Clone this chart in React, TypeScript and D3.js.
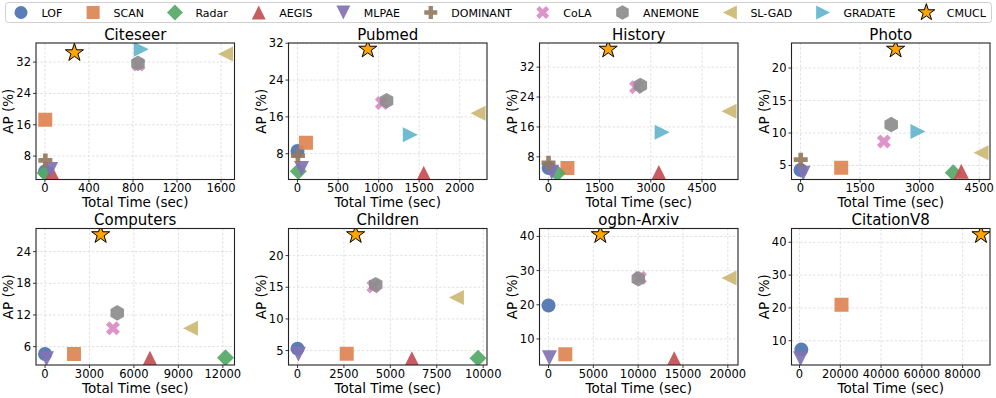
import React from "react";
import * as d3 from "d3";

// ---------- data ----------
const methods = ["LOF", "SCAN", "Radar", "AEGIS", "MLPAE", "DOMINANT", "CoLA", "ANEMONE", "SL-GAD", "GRADATE", "CMUCL"];
const colors = ["#4C72B0", "#DD8452", "#55A868", "#C44E52", "#8172B3", "#937860", "#DA8BC3", "#8C8C8C", "#CCB974", "#64B5CD", "#FFA500"];
const shapes = ["circle", "square", "diamond", "triUp", "triDown", "plus", "cross", "hexagon", "triLeft", "triRight", "star"];

const datasets = ["Citeseer", "Pubmed", "History", "Photo", "Computers", "Children", "ogbn-Arxiv", "CitationV8"];

// time (sec) per method, in the method order above; null = not run
const citeseerTime = [2, 3, 1, 66, 52, 4, 850, 845, 1640, 875, 268];
const citeseerAP = [4.1, 17.3, 3.7, 3.6, 4.6, 6.9, 31.4, 31.7, 34.1, 35.3, 34.4];
const pubmedTime = [0, 104, 10, 1556, 50, 5, 1040, 1098, 2225, 1391, 866];
const pubmedAP = [8.6, 10.4, 4.2, 3.75, 4.8, 7.6, 19.0, 19.5, 16.8, 12.1, 30.7];
const historyTime = [10, 559, 262, 3235, 97, 5, 2568, 2694, 5290, 3332, 1753];
const historyAP = [5.0, 5.0, 3.6, 3.8, 3.9, 6.4, 26.6, 27.1, 20.2, 14.6, 36.8];
const photoTime = [0, 1024, 3847, 4049, 66, 5, 2100, 2284, 4545, 2957, 2395];
const photoAP = [4.3, 4.65, 3.9, 4.1, 3.8, 5.9, 8.7, 11.3, 6.95, 10.25, 22.9];
const computersTime = [0, 1955, 12180, 7080, 100, null, 4585, 4876, 9820, null, 3755];
const computersAP = [4.6, 4.6, 3.9, 3.8, 3.7, null, 9.5, 12.4, 9.5, null, 27.2];
const childrenTime = [0, 2650, 9720, 6160, 50, null, 4085, 4210, 8560, null, 3130];
const childrenAP = [5.3, 4.5, 3.8, 3.7, 4.4, null, 15.1, 15.4, 13.4, null, 23.3];
const arxivTime = [0, 1870, null, 14020, 100, null, 10200, 10020, 20130, null, 5780];
const arxivAP = [19.8, 5.5, null, 4.2, 4.5, null, 27.9, 27.6, 27.8, null, 40.5];
const citationTime = [900, 20600, null, null, 500, null, null, null, null, null, 89000];
const citationAP = [7.3, 21.0, null, null, 4.5, null, null, null, null, null, 42.3];

const timeData = [citeseerTime, pubmedTime, historyTime, photoTime, computersTime, childrenTime, arxivTime, citationTime];
const apData = [citeseerAP, pubmedAP, historyAP, photoAP, computersAP, childrenAP, arxivAP, citationAP];

const xTicks = [
  [0, 400, 800, 1200, 1600],
  [0, 500, 1000, 1500, 2000],
  [0, 1500, 3000, 4500],
  [0, 1500, 3000, 4500],
  [0, 3000, 6000, 9000, 12000],
  [0, 2500, 5000, 7500, 10000],
  [0, 5000, 10000, 15000, 20000],
  [0, 20000, 40000, 60000, 80000],
];
const yTicks = [
  [8, 16, 24, 32],
  [8, 16, 24, 32],
  [8, 16, 24, 32],
  [5, 10, 15, 20],
  [6, 12, 18, 24],
  [5, 10, 15, 20],
  [10, 20, 30, 40],
  [10, 20, 30, 40],
];

// ---------- layout ----------
const W = 996;
const H = 398;
const colLeft = [36, 288.5, 539.5, 791.5];
const rowTop = [43, 228.5];
const PW = 198.5;
const PH = 136.5;
const FONT = "DejaVu Sans, Verdana, sans-serif";

function markerPath(shape: string, k = 1): string {
  const p = (pts: number[][]) => "M" + pts.map((q) => `${(q[0] * k).toFixed(2)},${(q[1] * k).toFixed(2)}`).join("L") + "Z";
  switch (shape) {
    case "circle": {
      const r = 7 * k;
      return `M${r},0A${r},${r} 0 1,1 ${-r},0A${r},${r} 0 1,1 ${r},0Z`;
    }
    case "square":
      return p([[-7, -7], [7, -7], [7, 7], [-7, 7]]);
    case "diamond":
      return p([[0, -8.5], [8.5, 0], [0, 8.5], [-8.5, 0]]);
    case "triUp":
      return p([[0, -7.5], [7.5, 7.5], [-7.5, 7.5]]);
    case "triDown":
      return p([[0, 7.5], [7.5, -7.5], [-7.5, -7.5]]);
    case "triLeft":
      return p([[-7.5, 0], [7.5, -7.5], [7.5, 7.5]]);
    case "triRight":
      return p([[7.5, 0], [-7.5, -7.5], [-7.5, 7.5]]);
    case "plus": {
      const a = 7, b = 7 / 3;
      return p([[-b, -a], [b, -a], [b, -b], [a, -b], [a, b], [b, b], [b, a], [-b, a], [-b, b], [-a, b], [-a, -b], [-b, -b]]);
    }
    case "cross": {
      const s = 14;
      const v = [[0.25, 0], [0.5, 0.25], [0.25, 0.5], [0, 0.25], [-0.25, 0.5], [-0.5, 0.25], [-0.25, 0], [-0.5, -0.25], [-0.25, -0.5], [0, -0.25], [0.25, -0.5], [0.5, -0.25]];
      return p(v.map((q) => [q[0] * s, q[1] * s]));
    }
    case "hexagon": {
      const r = 7.8;
      const v = d3.range(6).map((i) => {
        const a = -Math.PI / 2 + (i * Math.PI) / 3;
        return [r * Math.cos(a), r * Math.sin(a)];
      });
      return p(v);
    }
    case "star": {
      const R = 9.5, r = R * 0.381966;
      const v = d3.range(10).map((i) => {
        const a = -Math.PI / 2 + (i * Math.PI) / 5;
        const rr = i % 2 === 0 ? R : r;
        return [rr * Math.cos(a), rr * Math.sin(a)];
      });
      return p(v);
    }
  }
  return "";
}

function Marker({ i, x, y, k = 1 }: { i: number; x: number; y: number; k?: number }) {
  const isStar = shapes[i] === "star";
  return (
    <path
      d={markerPath(shapes[i], k)}
      transform={`translate(${x},${y})`}
      fill={colors[i]}
      fillOpacity={isStar ? 1 : 0.92}
      stroke={isStar ? "#000" : "none"}
      strokeWidth={isStar ? 1 : 0}
    />
  );
}

function extentWithMargin(vals: number[]): [number, number] {
  const [a, b] = d3.extent(vals) as [number, number];
  const m = (b - a) * 0.05;
  return [a - m, b + m];
}

function Panel({ idx }: { idx: number }) {
  const col = idx % 4;
  const row = Math.floor(idx / 4);
  const left = colLeft[col];
  const top = rowTop[row];
  const t = timeData[idx];
  const a = apData[idx];
  const pts = methods
    .map((_, i) => ({ i, x: t[i], y: a[i] }))
    .filter((d) => d.x !== null && d.y !== null) as { i: number; x: number; y: number }[];
  const x = d3.scaleLinear().domain(extentWithMargin(pts.map((d) => d.x))).range([left, left + PW]);
  const y = d3.scaleLinear().domain(extentWithMargin(pts.map((d) => d.y))).range([top + PH, top]);
  const clipId = `clip${idx}`;
  return (
    <g>
      <defs>
        <clipPath id={clipId}>
          <rect x={left} y={top} width={PW} height={PH} />
        </clipPath>
      </defs>
      <rect x={left} y={top} width={PW} height={PH} fill="#fff" />
      {xTicks[idx].map((v) => (
        <line key={"gx" + v} x1={x(v)} x2={x(v)} y1={top} y2={top + PH} stroke="#d9d9d9" strokeWidth={0.8} strokeDasharray="2.5,1.8" />
      ))}
      {yTicks[idx].map((v) => (
        <line key={"gy" + v} x1={left} x2={left + PW} y1={y(v)} y2={y(v)} stroke="#d9d9d9" strokeWidth={0.8} strokeDasharray="2.5,1.8" />
      ))}
      <g clipPath={`url(#${clipId})`}>
        {pts.map((d) => (
          <Marker key={d.i} i={d.i} x={x(d.x)} y={y(d.y)} />
        ))}
      </g>
      <rect x={left} y={top} width={PW} height={PH} fill="none" stroke="#222" strokeWidth={1.1} />
      {xTicks[idx].map((v) => (
        <g key={"tx" + v}>
          <line x1={x(v)} x2={x(v)} y1={top + PH} y2={top + PH + 3} stroke="#222" strokeWidth={0.9} />
          <text x={x(v)} y={top + PH + 12.5} textAnchor="middle" fontSize={11.5} fontFamily={FONT} fill="#000">
            {v}
          </text>
        </g>
      ))}
      {yTicks[idx].map((v) => (
        <g key={"ty" + v}>
          <line x1={left - 3} x2={left} y1={y(v)} y2={y(v)} stroke="#222" strokeWidth={0.9} />
          <text x={left - 5} y={y(v) + 4} textAnchor="end" fontSize={11.5} fontFamily={FONT} fill="#000">
            {v}
          </text>
        </g>
      ))}
      <text x={left + PW / 2} y={top - 3.5} textAnchor="middle" fontSize={15} fontFamily={FONT} fill="#000">
        {datasets[idx]}
      </text>
      <text x={left + PW / 2} y={top + PH + 27.5} textAnchor="middle" fontSize={13.5} fontFamily={FONT} fill="#000">
        Total Time (sec)
      </text>
      <text
        transform={`translate(${left - 23},${top + PH / 2}) rotate(-90)`}
        textAnchor="middle"
        fontSize={13.5}
        fontFamily={FONT}
        fill="#000"
      >
        AP (%)
      </text>
    </g>
  );
}

function measure(txt: string, size: number): number {
  try {
    const c = document.createElement("canvas").getContext("2d");
    if (c) {
      c.font = `${size}px "DejaVu Sans"`;
      return c.measureText(txt).width;
    }
  } catch (e) {}
  return txt.length * size * 0.62;
}

function Legend() {
  const fs = 11;
  let cx = 21;
  const items = methods.map((m, i) => {
    const it = { i, m, cx };
    cx += measure(m, fs) + 51.4;
    return it;
  });
  return (
    <g>
      <rect x={5.5} y={2.5} width={986} height={20} rx={3} fill="#fff" stroke="#d0d0d0" strokeWidth={1} />
      {items.map((it) => (
        <g key={it.m}>
          <Marker i={it.i} x={it.cx} y={12.5} k={0.93} />
          <text x={it.cx + 20.5} y={16.5} fontSize={fs} fontFamily={FONT} fill="#000">
            {it.m}
          </text>
        </g>
      ))}
    </g>
  );
}

export default function App() {
  return (
    <svg width={W} height={H} viewBox={`0 0 ${W} ${H}`} style={{ display: "block", position: "absolute", left: 0, top: 0, background: "#fff" }}>
      <rect width={W} height={H} fill="#fff" />
      {datasets.map((_, i) => (
        <Panel key={i} idx={i} />
      ))}
      <Legend />
    </svg>
  );
}
